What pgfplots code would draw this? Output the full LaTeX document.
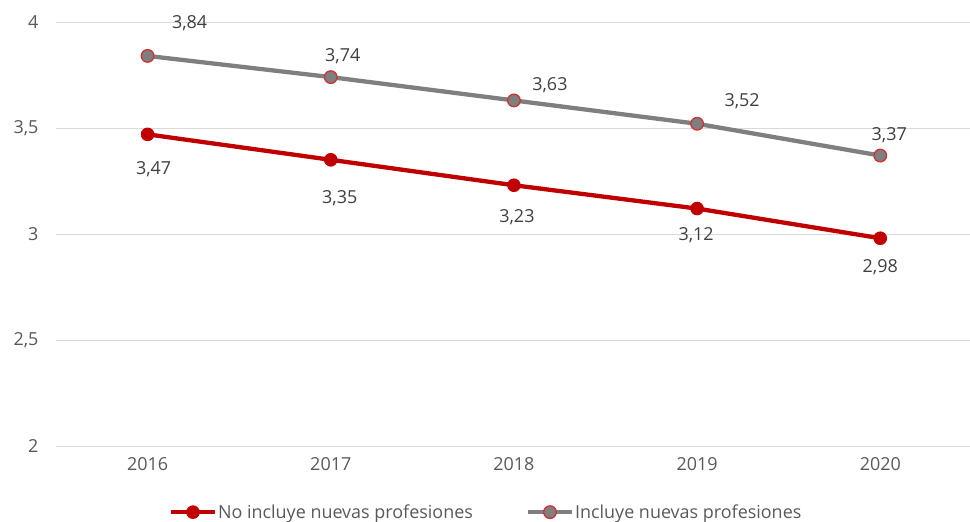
\documentclass[border=0pt]{standalone}
\usepackage{pgfplots}
\pgfplotsset{compat=1.18}
\usepackage{pgfplotstable}
\usepackage{fontspec}
\setmainfont{Open Sans}
\definecolor{myred}{HTML}{C00000}
\definecolor{mygray}{HTML}{7F7F7F}
\definecolor{gridc}{HTML}{D9D9D9}
\definecolor{tickc}{HTML}{595959}
\definecolor{labc}{HTML}{404040}

\pgfplotstableread{
x y dx dy lab
0 3.47 6 -35 3,47
1 3.35 9 -38 3,35
2 3.23 3 -32 3,23
3 3.12 -1 -27 3,12
4 2.98 0 -29 2,98
}\redtab

\pgfplotstableread{
x y dx dy lab
0 3.84 42 33 3,84
1 3.74 12 21 3,74
2 3.63 36 15 3,63
3 3.52 45 23 3,52
4 3.37 9 20 3,37
}\graytab

\newcommand{\lblfont}{\fontsize{18}{21}\selectfont}

\begin{document}
\begin{tikzpicture}
\begin{axis}[
  scale only axis, width=914bp, height=424bp,
  xmin=-0.5, xmax=4.49, ymin=2, ymax=4,
  xtick={0,1,2,3,4}, xticklabels={2016,2017,2018,2019,2020},
  ytick={2,2.5,3,3.5,4},
  yticklabels={2,{2,5},3,{3,5},4},
  ymajorgrids, grid style={gridc, line width=0.9bp},
  axis line style={draw=none}, major tick length=0,
  tick label style={font=\lblfont, text=tickc},
  xticklabel style={yshift=-8bp},
  yticklabel style={xshift=-14bp},
  clip=false,
  legend columns=2,
  legend style={at={(0.47,-0.156)}, anchor=center, draw=none, fill=none,
    font=\lblfont, text=tickc, nodes={inner sep=1bp},
    /tikz/every even column/.append style={column sep=52bp}},
  legend image code/.code={\draw[mark repeat=2,mark phase=2] plot coordinates {(0bp,0bp)(22bp,0bp)(44bp,0bp)};},
]
\addplot[myred, line width=4.3bp, mark=*, mark size=6.3bp,
  mark options={fill=myred, draw=myred, line width=1bp},
  nodes near coords, point meta=explicit symbolic,
  visualization depends on={\thisrow{dx}\as\dx},
  visualization depends on={\thisrow{dy}\as\dy},
  nodes near coords style={anchor=center, xshift=\dx bp, yshift=\dy bp, font=\lblfont, text=labc}]
  table[x=x,y=y,meta=lab]{\redtab};
\addlegendentry{No incluye nuevas profesiones}
\addplot[mygray, line width=4.3bp, mark=*, mark size=6.3bp,
  mark options={fill=mygray, draw=myred!80!white, line width=1.3bp},
  nodes near coords, point meta=explicit symbolic,
  visualization depends on={\thisrow{dx}\as\dx},
  visualization depends on={\thisrow{dy}\as\dy},
  nodes near coords style={anchor=center, xshift=\dx bp, yshift=\dy bp, font=\lblfont, text=labc}]
  table[x=x,y=y,meta=lab]{\graytab};
\addlegendentry{Incluye nuevas profesiones}
\coordinate (sw) at (rel axis cs:0,0);
\coordinate (ne) at (rel axis cs:1,1);
\end{axis}
\pgfresetboundingbox
\path ([shift={(-56bp,-76bp)}]sw) rectangle ([shift={(0bp,22bp)}]ne);
\end{tikzpicture}
\end{document}
